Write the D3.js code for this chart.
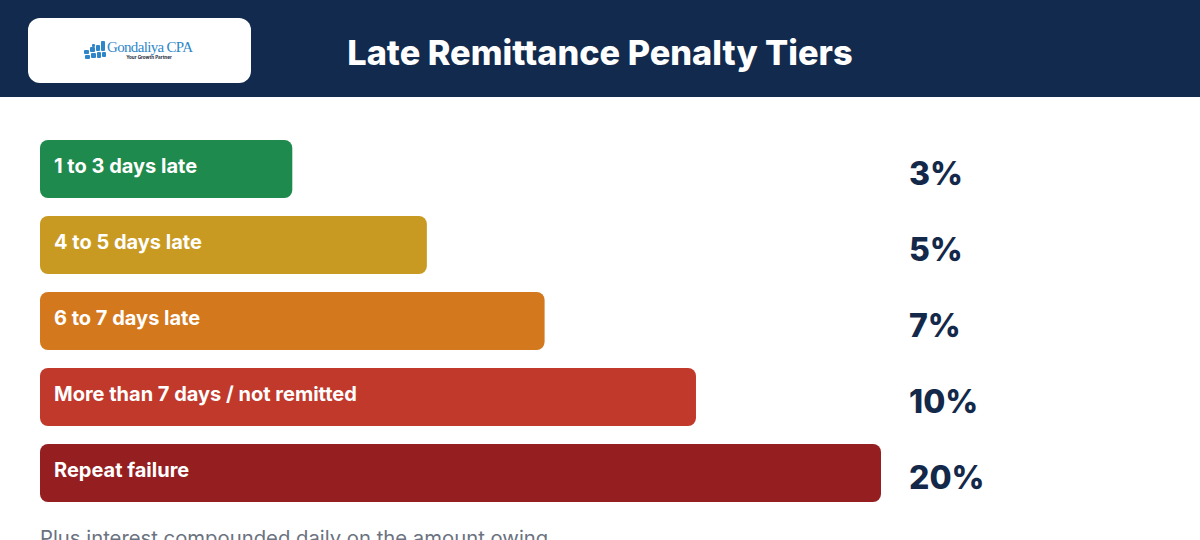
<!DOCTYPE html>
<html>
<head>
<meta charset="utf-8">
<script src="https://cdn.jsdelivr.net/npm/d3@7"></script>
<style>
  html, body { margin: 0; padding: 0; background: #ffffff; }
  svg { display: block; }
</style>
</head>
<body>
<svg id="chart" width="1200" height="540"></svg>
<script>
// ---- data ----
const title = "Late Remittance Penalty Tiers";
const categories = ["1 to 3 days late", "4 to 5 days late", "6 to 7 days late", "More than 7 days / not remitted", "Repeat failure"];
const penaltyPct = [3, 5, 7, 10, 20];
const barFill = [30, 46, 60, 78, 100];   // relative bar length (% of track)
const barColors = ["#1f8a4d", "#c99a21", "#d4781d", "#c0392b", "#941e20"];
const footnote = "Plus interest compounded daily on the amount owing";
const brandName = "Gondaliya CPA";
const brandTagline = "Your Growth Partner";

const W = 1200, H = 540;
const svg = d3.select("#chart");
const FONT = "Inter, 'Open Sans', 'Noto Sans', sans-serif";

// header
svg.append("rect").attr("x", 0).attr("y", 0).attr("width", W).attr("height", 97).attr("fill", "#112a4d");

// logo card
svg.append("rect").attr("x", 28).attr("y", 18).attr("width", 223).attr("height", 65).attr("rx", 12).attr("fill", "#ffffff");
const logo = svg.append("g").attr("fill", "#2e86c8");
const iconBlocks = [[84,50,5,4],[90,47,5,5],[96,45,4,6],[101,41,4,10],[85,55,5,4],[91,53,5,5],[97,52,4,6],[102,52,4,5],[92,44,3,3]];
iconBlocks.forEach(b => logo.append("rect").attr("x", b[0]).attr("y", b[1]).attr("width", b[2]).attr("height", b[3]).attr("rx", 1));
logo.append("text").attr("x", 107).attr("y", 52).attr("font-family", "'Liberation Serif', 'DejaVu Serif', serif")
  .attr("font-size", 15).attr("fill", "#2e86c8").attr("textLength", 86).text(brandName);
svg.append("text").attr("x", 149).attr("y", 59).attr("text-anchor", "middle").attr("font-family", FONT)
  .attr("font-size", 4.6).attr("font-weight", 700).attr("fill", "#1b2a3a").text(brandTagline);

// title
svg.append("text").attr("x", 600).attr("y", 65).attr("text-anchor", "middle")
  .attr("font-family", FONT).attr("font-weight", 800).attr("font-size", 34.3)
  .attr("fill", "#ffffff").text(title);

// scales
const y = d3.scaleBand().domain(categories).range([140, 502]).paddingInner(18/76).paddingOuter(0);
const x = d3.scaleLinear().domain([0, 100]).range([0, 841]);
const rows = categories.map((c, i) => ({ c, v: penaltyPct[i], f: barFill[i], col: barColors[i] }));

const g = svg.append("g");
const row = g.selectAll("g.row").data(rows).join("g").attr("class", "row");
row.append("rect")
  .attr("x", 40)
  .attr("y", d => y(d.c))
  .attr("width", d => x(d.f))
  .attr("height", y.bandwidth())
  .attr("rx", 8)
  .attr("fill", d => d.col);
row.append("text")
  .attr("x", 54)
  .attr("y", d => y(d.c) + 33)
  .attr("font-family", FONT).attr("font-weight", 700).attr("font-size", 20)
  .attr("fill", "#ffffff")
  .text(d => d.c);
row.append("text")
  .attr("x", 909)
  .attr("y", d => y(d.c) + 45)
  .attr("font-family", FONT).attr("font-weight", 800).attr("font-size", 32)
  .attr("fill", "#14294a")
  .text(d => d.v + "%");

// footnote
svg.append("text").attr("x", 40).attr("y", 545)
  .attr("font-family", FONT).attr("font-size", 20.3).attr("fill", "#6b7280")
  .text(footnote);
</script>
</body>
</html>
